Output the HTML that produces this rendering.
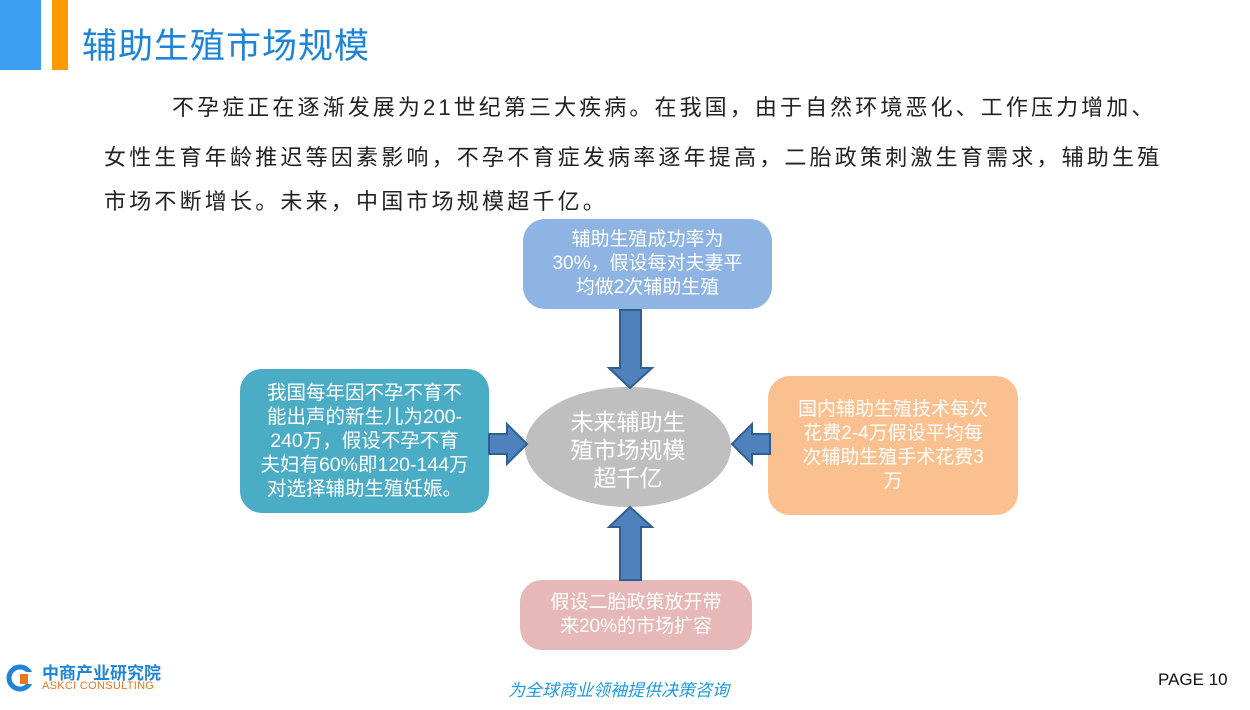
<!DOCTYPE html>
<html><head><meta charset="utf-8"><style>
body{margin:0;width:1250px;height:710px;background:#fff;position:relative;overflow:hidden;font-family:"Liberation Sans","Noto Sans CJK SC",sans-serif}
.a{position:absolute}
.box{position:absolute;border-radius:22px;color:#fff;font-size:19px;line-height:24px;text-align:center;display:flex;align-items:center;justify-content:center;box-sizing:border-box;padding:0 6px;white-space:nowrap}
.p{position:absolute;font-size:22px;color:#222;letter-spacing:3.2px;white-space:nowrap}
</style></head><body>
<div class="a" style="left:0;top:0;width:41px;height:70px;background:#3d9ff0"></div>
<div class="a" style="left:52px;top:0;width:16px;height:70px;background:#ff9900"></div>
<div class="a" style="left:82px;top:18px;font-size:35px;color:#1e84d6;letter-spacing:1px">辅助生殖市场规模</div>
<div class="p" style="left:172px;top:90px;letter-spacing:3.1px">不孕症正在逐渐发展为21世纪第三大疾病。在我国，由于自然环境恶化、工作压力增加、</div>
<div class="p" style="left:104px;top:140px">女性生育年龄推迟等因素影响，不孕不育症发病率逐年提高，二胎政策刺激生育需求，辅助生殖</div>
<div class="p" style="left:104px;top:184px">市场不断增长。未来，中国市场规模超千亿。</div>

<div class="box" style="left:523px;top:219px;width:249px;height:90px;background:#8eb4e3">辅助生殖成功率为<br>30%，假设每对夫妻平<br>均做2次辅助生殖</div>
<div class="box" style="left:240px;top:369px;width:249px;height:144px;background:#4bacc6;font-size:19.5px">我国每年因不孕不育不<br>能出声的新生儿为200-<br>240万，假设不孕不育<br>夫妇有60%即120-144万<br>对选择辅助生殖妊娠。</div>
<div class="box" style="left:768px;top:376px;width:250px;height:139px;background:#fac090">国内辅助生殖技术每次<br>花费2-4万假设平均每<br>次辅助生殖手术花费3<br>万</div>
<div class="box" style="left:520px;top:580px;width:232px;height:70px;background:#e6b9b8">假设二胎政策放开带<br>来20%的市场扩容</div>

<svg class="a" style="left:0;top:0" width="1250" height="710">
<ellipse cx="628" cy="447" rx="103" ry="60" fill="#bfbfbf"/>
<g fill="#4f81bd" stroke="#2f5f8f" stroke-width="2">
<polygon points="620,310 641,310 641,368 652,368 630,388 609,368 620,368"/>
<polygon points="620,580 641,580 641,527 652,527 630,507 609,527 620,527"/>
<polygon points="489,434 507,434 507,424 527,444 507,464 507,454 489,454"/>
<polygon points="770,434 752,434 752,424 732,444 752,464 752,454 770,454"/>
</g>
<text x="628" y="430" font-size="23" fill="#fff" text-anchor="middle" font-family="Liberation Sans,Noto Sans CJK SC,sans-serif">未来辅助生</text>
<text x="628" y="458" font-size="23" fill="#fff" text-anchor="middle" font-family="Liberation Sans,Noto Sans CJK SC,sans-serif">殖市场规模</text>
<text x="628" y="486" font-size="23" fill="#fff" text-anchor="middle" font-family="Liberation Sans,Noto Sans CJK SC,sans-serif">超千亿</text>
<circle cx="20" cy="678" r="11" fill="none" stroke="#1e84d6" stroke-width="5"/>
<rect x="22" y="672" width="12" height="12" fill="#fff"/>
<rect x="20" y="674" width="8" height="10" fill="#e87722"/>
</svg>
<div class="a" style="left:42px;top:659px;font-size:17px;font-weight:bold;color:#1e84d6">中商产业研究院</div>
<div class="a" style="left:42px;top:680px;font-size:11px;color:#e87722;letter-spacing:0.3px">ASKCI CONSULTING</div>
<div class="a" style="left:508px;top:676px;font-size:17px;color:#1e9be0;font-style:italic">为全球商业领袖提供决策咨询</div>
<div class="a" style="left:1158px;top:670px;font-size:17px;color:#111">PAGE 10</div>
</body></html>
